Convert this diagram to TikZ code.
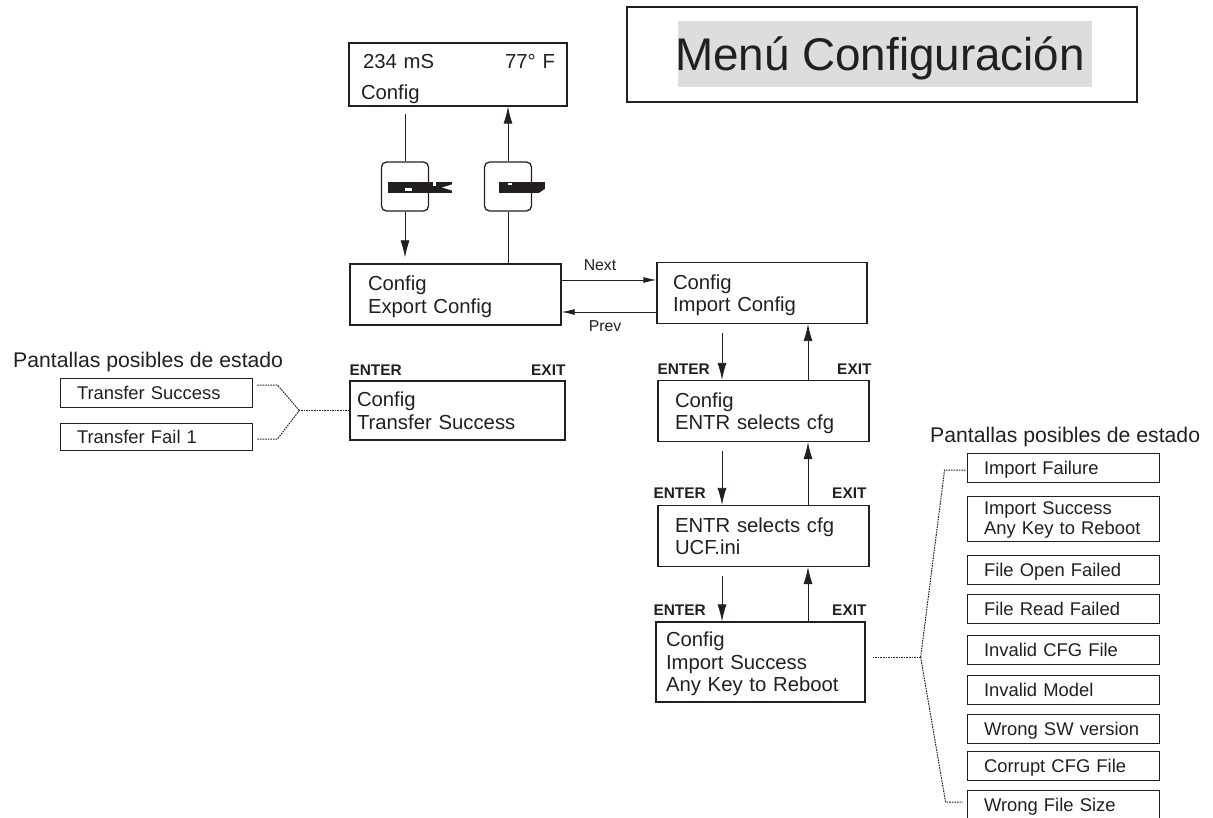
\documentclass[tikz,border=0pt]{standalone}
\usepackage{fontspec}
\setmainfont{Liberation Sans}
\usetikzlibrary{arrows.meta}

\definecolor{ink}{RGB}{35,31,32}
\definecolor{shade}{RGB}{221,221,220}

\newcommand\boxfont{\fontsize{20.3}{22.5}\selectfont}
\newcommand\statfont{\fontsize{18.4}{20}\selectfont}
\newcommand\lblfont{\fontsize{15.4}{17}\selectfont\bfseries}
\newcommand\navfont{\fontsize{15.8}{18}\selectfont}
\newcommand\headfont{\fontsize{21.2}{24}\selectfont}
\newcommand\bigtitlefont{\fontsize{45.8}{50}\selectfont}

\begin{document}
\begin{tikzpicture}[x=1pt, y=-1pt, color=ink,
	lcd/.style={draw, line width=1.3pt, minimum height=61pt, inner ysep=0pt, align=left, text depth=22.5pt, font=\boxfont},
	stat/.style={draw, line width=0.9pt, minimum width=192pt, minimum height=29pt, text width=158pt, inner xsep=17pt, inner ysep=0pt, align=left, text depth=0pt, font=\statfont},
	key/.style={draw, fill=white, line width=1.3pt, rounded corners=5pt, minimum width=47pt, minimum height=49pt, inner sep=0pt},
	keylbl/.style={inner sep=0pt, font=\lblfont},
	navlbl/.style={inner sep=0pt, font=\navfont},
	arr/.style={line width=0.8pt, -{Latex[length=17pt, width=9pt]}},
	navarr/.style={line width=0.8pt, -{Latex[length=13pt, width=6pt]}},
	dots/.style={line width=1pt, dash pattern=on 1.6pt off 1pt}]
	\useasboundingbox (0,0) rectangle (1213,818);

	% title
	\node[draw, line width=1.3pt, minimum width=510pt, minimum height=95pt] (titlebox) at (882,54.5) {};
	\node[fill=shade, minimum width=414pt, minimum height=66pt, inner sep=0pt] (shadebox) at (885,54) {};
	\node[inner sep=0pt, text depth=0pt, font=\bigtitlefont] (title) at (880,54) {Menú Configuración};

	% main display and keys
	\node[lcd, text width=194pt, inner xsep=12pt, minimum height=63pt, text depth=26pt] (disp) at (458,74.5) {\hspace*{2pt}234 mS\hfill 77° F\\[8pt]Config};
	\node[key] (kenter) at (405,186.5) {};
	\node[key] (kexit) at (508,186.5) {};

	\fill ([shift={(-17pt,4.5pt)}]kenter.center) rectangle ([shift={(47pt,-6.5pt)}]kenter.center);
	\fill[white] ([shift={(0pt,-1.5pt)}]kenter.center) rectangle ([shift={(7pt,-4.5pt)}]kenter.center);
	\fill[white] ([shift={(28pt,4.5pt)}]kenter.center) rectangle ([shift={(31pt,0pt)}]kenter.center);
	\fill[white] ([shift={(47pt,2pt)}]kenter.center) -- ([shift={(37pt,-1pt)}]kenter.center) -- ([shift={(47pt,-4pt)}]kenter.center) -- cycle;
	\fill ([shift={(-9pt,4.5pt)}]kexit.center) rectangle ([shift={(37pt,-6.5pt)}]kexit.center);
	\fill[white] ([shift={(0pt,3.5pt)}]kexit.center) rectangle ([shift={(4pt,1.5pt)}]kexit.center);
	\fill[white] ([shift={(37pt,-2.5pt)}]kexit.center) -- ([shift={(31pt,-6.5pt)}]kexit.center) -- ([shift={(37pt,-6.5pt)}]kexit.center) -- cycle;

	% menu screens
	\node[lcd, text width=175pt, inner xsep=18pt] (export) at (455.5,294.5) {Config\\Export Config};
	\node[lcd, text width=178pt, inner xsep=16pt] (import) at (762,293) {Config\\Import Config};
	\node[lcd, text width=201pt, inner xsep=7pt, minimum height=59pt] (xfer) at (457.5,410.5) {Config\\Transfer Success};
	\node[lcd, text width=177pt, inner xsep=17pt] (sel) at (763.5,411) {Config\\ENTR selects cfg};
	\node[lcd, text width=177pt, inner xsep=17pt] (ucf) at (763.5,536) {ENTR selects cfg\\UCF.ini};
	\node[lcd, text width=189pt, inner xsep=10pt, minimum height=80pt, text depth=45pt] (done) at (760.5,662) {Config\\Import Success\\Any Key to Reboot};

	\draw[line width=0.8pt, shorten <=7pt] (disp.south -| kenter) -- (kenter.north);
	\draw[arr, shorten >=6pt] (kenter.south) -- (kenter.south |- export.north);
	\draw[line width=0.8pt] (export.north -| kexit) -- (kexit.south);
	\draw[arr] (kexit.north) -- (kexit.north |- disp.south);

	\coordinate (nx) at ([yshift=14.5pt]export.east);
	\coordinate (pv) at ([yshift=-17.5pt]export.east);
	\draw[navarr] (nx) -- (nx -| import.west);
	\draw[navarr] (pv -| import.west) -- (pv);
	\node[navlbl, anchor=base] (nextlbl) at (600,271) {Next};
	\node[navlbl, anchor=base] (prevlbl) at (605,331) {Prev};

	\coordinate (dn) at (722,0);
	\coordinate (up) at (808,0);
	\foreach \a/\b in {import/sel, sel/ucf, ucf/done} {
		\draw[arr, shorten <=9pt] (\a.south -| dn) -- (\b.north -| dn);
		\draw[arr] (\b.north -| up) -- (\a.south -| up);
	}

	\node[keylbl, anchor=base west] (xfer-enter) at ([yshift=5pt]xfer.north west) {ENTER};
	\node[keylbl, anchor=base east] (xfer-exit) at ([yshift=5pt]xfer.north east) {EXIT};
	\node[keylbl, anchor=base west] (sel-enter) at ([yshift=5pt]sel.north west) {ENTER};
	\node[keylbl, anchor=base east] (sel-exit) at ([xshift=2pt,yshift=5pt]sel.north east) {EXIT};
	\node[keylbl, anchor=base west] (ucf-enter) at ([xshift=-4pt,yshift=6pt]ucf.north west) {ENTER};
	\node[keylbl, anchor=base east] (ucf-exit) at ([xshift=-3pt,yshift=6pt]ucf.north east) {EXIT};
	\node[keylbl, anchor=base west] (done-enter) at ([xshift=-2pt,yshift=6pt]done.north west) {ENTER};
	\node[keylbl, anchor=base east] (done-exit) at ([xshift=1pt,yshift=6pt]done.north east) {EXIT};

	% status screens, export side
	\node[inner sep=0pt, anchor=base west, font=\headfont] (lhead) at (13,367) {Pantallas posibles de estado};
	\node[stat] (tsucc) at (156,393) {Transfer Success};
	\node[stat, minimum height=27pt] (tfail) at (156,436.5) {Transfer Fail 1};
	\draw[dots] (xfer.west) -- ++(-50,0) coordinate (jl);
	\draw[dots] ([xshift=5pt,yshift=8pt]tsucc.east) -- ++(20,0) -- (jl);
	\draw[dots] ([xshift=5pt,yshift=-2.5pt]tfail.east) -- ++(20,0) -- (jl);

	% status screens, import side
	\node[inner sep=0pt, anchor=base west, font=\headfont] (rhead) at (930,442) {Pantallas posibles de estado};
	\node[stat] (fail1) at (1063,467.5) {Import Failure};
	\node[stat, minimum height=45pt, text depth=20pt] (okrb) at (1063,518.5) {Import Success\\Any Key to Reboot};
	\node[stat] (fopen) at (1063,570) {File Open Failed};
	\node[stat] (fread) at (1063,609) {File Read Failed};
	\node[stat] (badcfg) at (1063,649.5) {Invalid CFG File};
	\node[stat] (model) at (1063,689.5) {Invalid Model};
	\node[stat] (swver) at (1063,728.5) {Wrong SW version};
	\node[stat] (corrupt) at (1063,766) {Corrupt CFG File};
	\node[stat] (fsize) at (1063,804.5) {Wrong File Size};
	\draw[dots] ([xshift=7pt,yshift=5pt]done.east) -- ++(48,0) coordinate (jr);
	\draw[dots] (jr) -- ([xshift=-22pt,yshift=-2.5pt]fail1.west) -- ([yshift=-2.5pt]fail1.west);
	\draw[dots] (jr) -- ([xshift=-21pt,yshift=2.5pt]fsize.west) -- ([xshift=-4pt,yshift=2.5pt]fsize.west);
\end{tikzpicture}
\end{document}
